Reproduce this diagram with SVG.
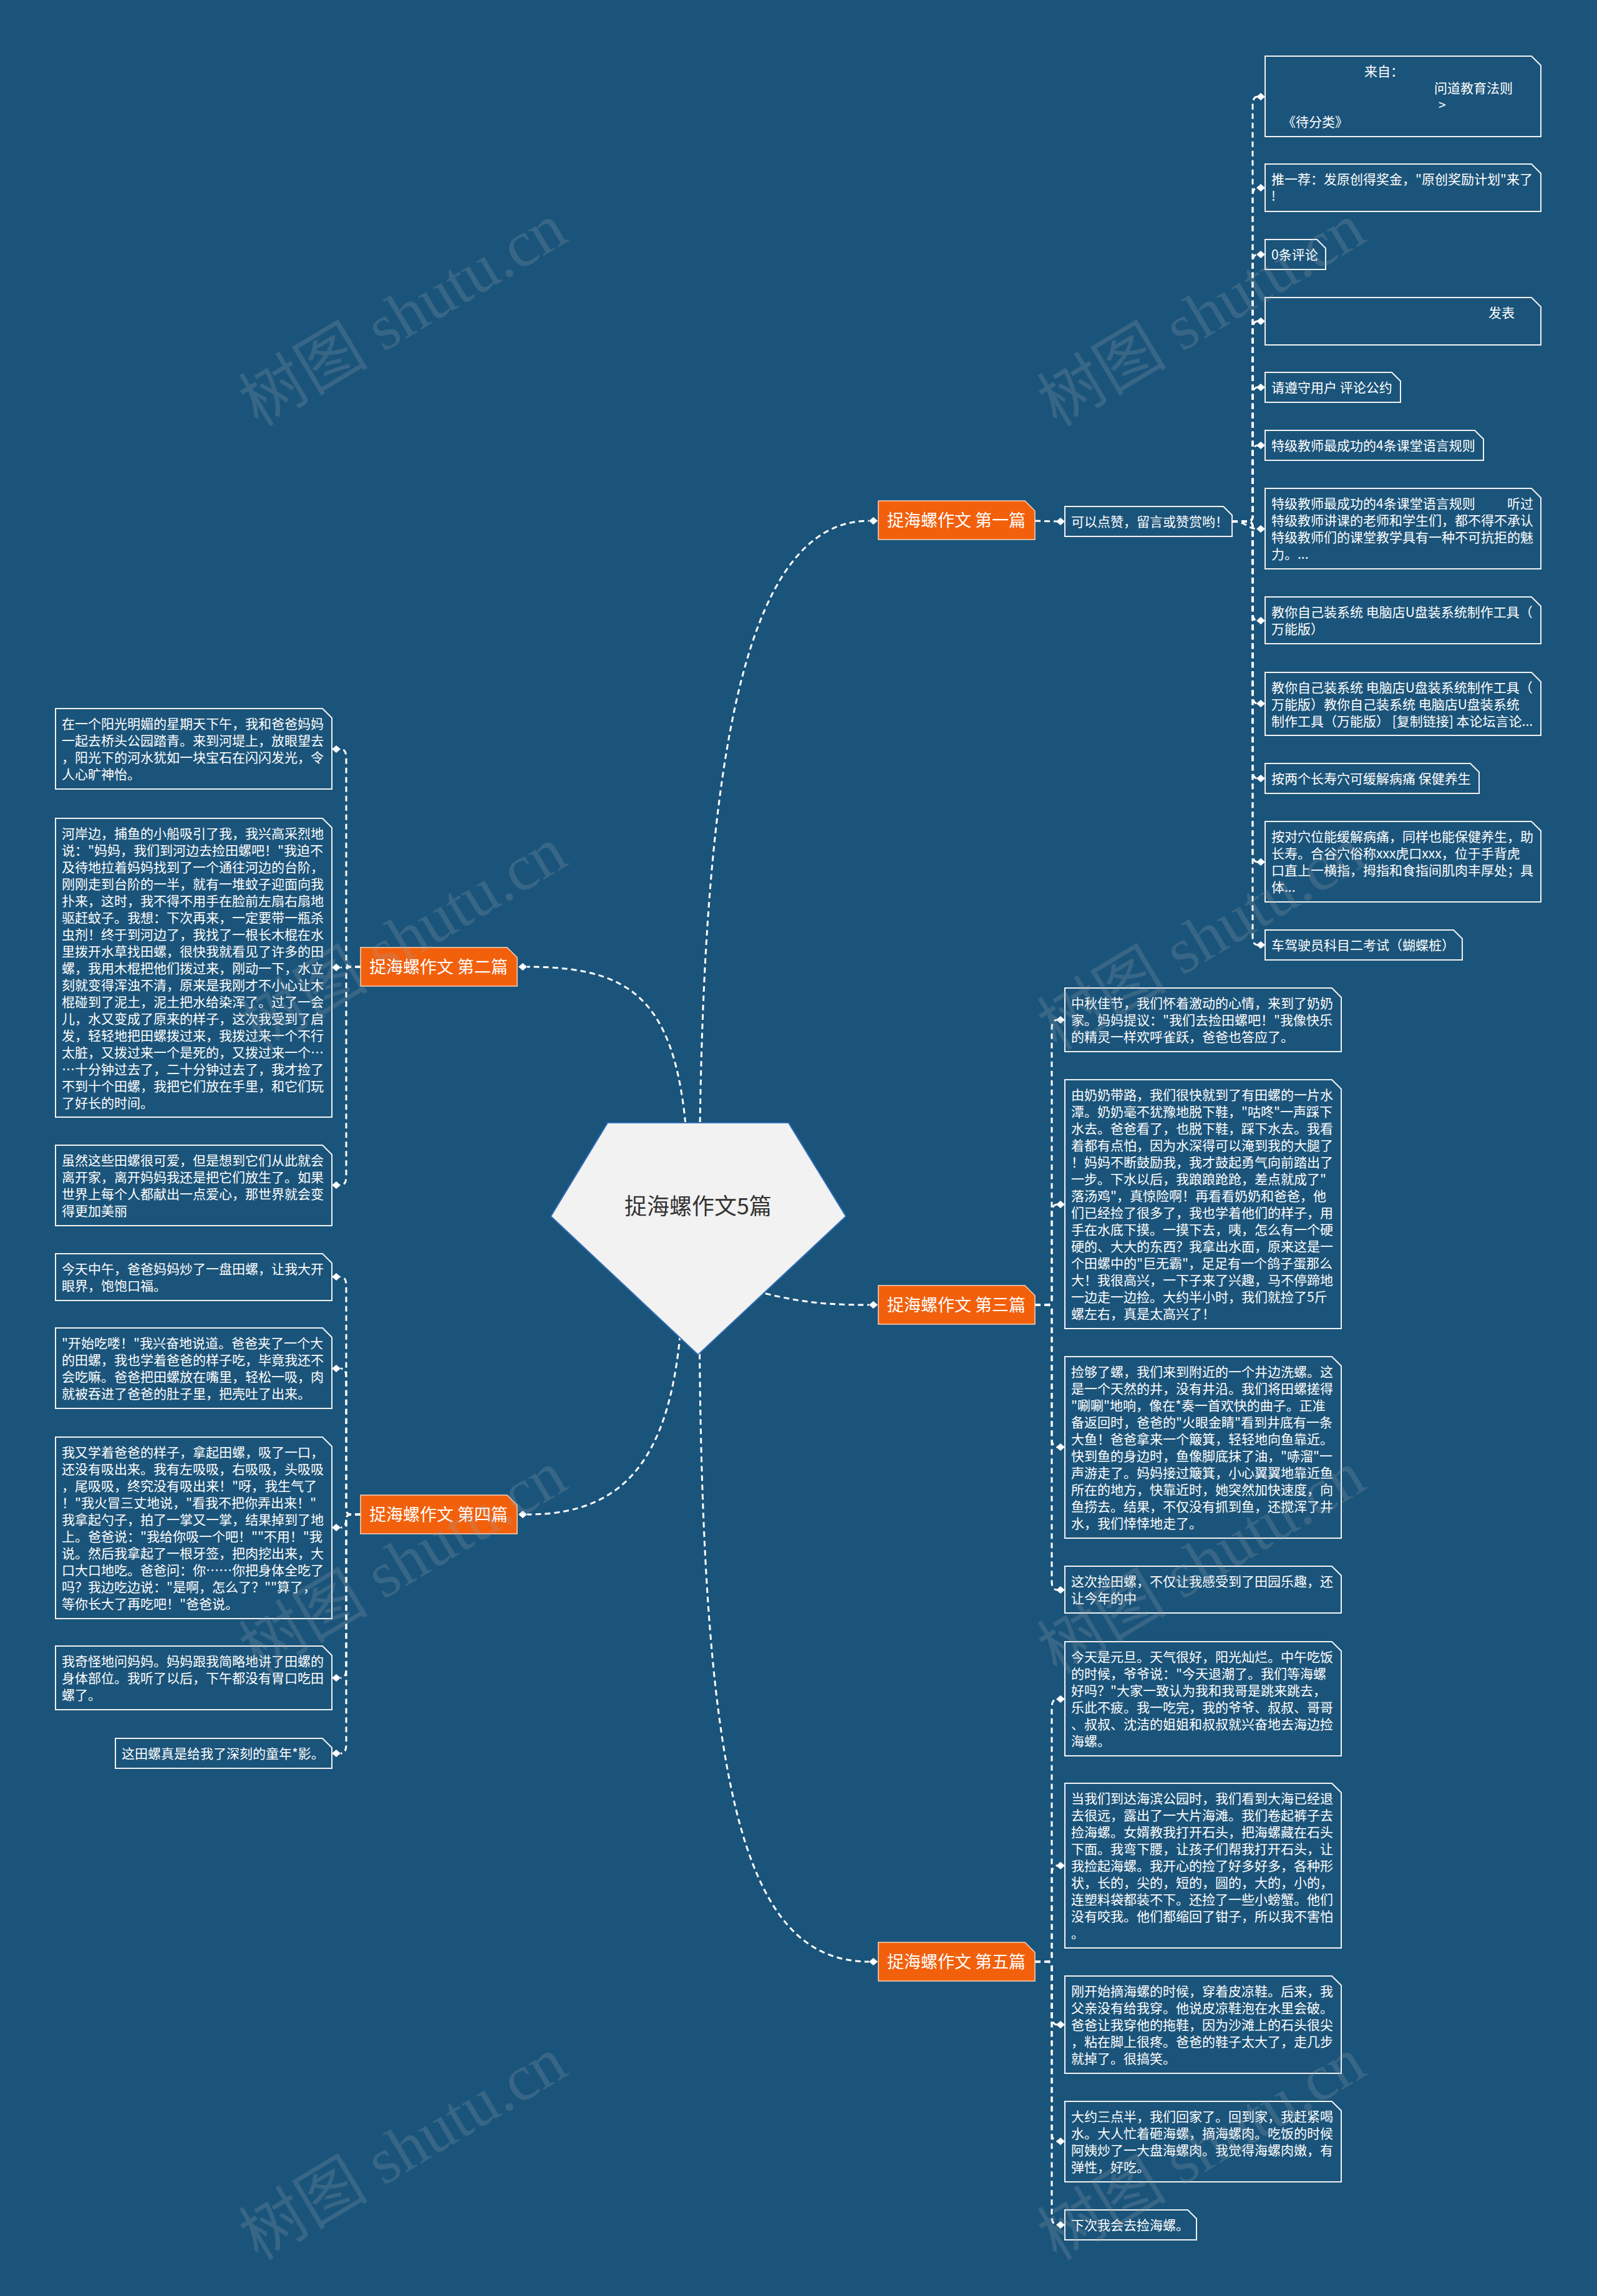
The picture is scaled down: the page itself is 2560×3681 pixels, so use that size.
<svg xmlns="http://www.w3.org/2000/svg" xmlns:xlink="http://www.w3.org/1999/xlink" width="2560" height="3681" viewBox="0 0 2560 3681">
<style>
.bg{fill:#1b547a}
.box{fill:#1b547a;stroke:#f2f2f2;stroke-width:2}
.lab{fill:#f2600c;stroke:#fbd3b8;stroke-width:1.5}
.t{font-family:"Noto Sans CJK SC","Noto Sans",sans-serif;font-size:21px;fill:#ffffff}
.lt{font-family:"Noto Sans CJK SC","Noto Sans",sans-serif;font-size:27px;fill:#ffffff}
.rt{font-family:"Noto Sans CJK SC","Noto Sans",sans-serif;font-size:36px;fill:#333333}
.c{fill:none;stroke:#ffffff;stroke-width:3;stroke-dasharray:9 6}
.wm{font-family:"Liberation Serif","Noto Sans CJK SC",serif;font-size:104px;fill:#9aa7b2;opacity:0.22}
</style>
<defs>
<path id="dia" d="M-7,0 L0,-6 L7,0 L0,6 Z" fill="#ffffff"/>
</defs>
<rect class="bg" x="0" y="0" width="2560" height="3681"/>

<g id="connectors">
<path class="c" d="M1121,1950 C1121,1250 1185,835 1393,835"/>
<path class="c" d="M1105,1950 C1105,1620 1040,1550 845,1550"/>
<path class="c" d="M1140,2050 C1260,2085 1300,2092 1393,2092"/>
<path class="c" d="M1095,2050 C1090,2330 1010,2428 845,2428"/>
<path class="c" d="M1121,2050 C1121,2850 1185,3145 1393,3145"/>
<path class="c" d="M1659,835 L1695,836"/>
<path class="c" d="M1975,836 H2000 Q2008,836 2008,828 V169 Q2008,155 2016,155"/>
<path class="c" d="M1975,836 H2000 Q2008,836 2008,828 V315 Q2008,301 2016,301"/>
<path class="c" d="M1975,836 H2000 Q2008,836 2008,828 V422 Q2008,408 2016,408"/>
<path class="c" d="M1975,836 H2000 Q2008,836 2008,828 V529 Q2008,515 2016,515"/>
<path class="c" d="M1975,836 H2000 Q2008,836 2008,828 V635 Q2008,621 2016,621"/>
<path class="c" d="M1975,836 H2000 Q2008,836 2008,828 V728 Q2008,714 2016,714"/>
<path class="c" d="M1975,836 C1998,836 2000,848 2016,848"/>
<path class="c" d="M1975,836 H2000 Q2008,836 2008,844 V981 Q2008,995 2016,995"/>
<path class="c" d="M1975,836 H2000 Q2008,836 2008,844 V1114 Q2008,1128 2016,1128"/>
<path class="c" d="M1975,836 H2000 Q2008,836 2008,844 V1234 Q2008,1248 2016,1248"/>
<path class="c" d="M1975,836 H2000 Q2008,836 2008,844 V1368 Q2008,1382 2016,1382"/>
<path class="c" d="M1975,836 H2000 Q2008,836 2008,844 V1501 Q2008,1515 2016,1515"/>
<path class="c" d="M1659,2092 H1678 Q1686,2092 1686,2084 V1649 Q1686,1635 1695,1635"/>
<path class="c" d="M1659,2092 H1678 Q1686,2092 1686,2084 V1945 Q1686,1931 1695,1931"/>
<path class="c" d="M1659,2092 H1678 Q1686,2092 1686,2100 V2306 Q1686,2320 1695,2320"/>
<path class="c" d="M1659,2092 H1678 Q1686,2092 1686,2100 V2535 Q1686,2549 1695,2549"/>
<path class="c" d="M1659,3145 H1678 Q1686,3145 1686,3137 V2738 Q1686,2724 1695,2724"/>
<path class="c" d="M1659,3145 H1678 Q1686,3145 1686,3137 V3005 Q1686,2991 1695,2991"/>
<path class="c" d="M1659,3145 H1678 Q1686,3145 1686,3153 V3232 Q1686,3246 1695,3246"/>
<path class="c" d="M1659,3145 H1678 Q1686,3145 1686,3153 V3419 Q1686,3433 1695,3433"/>
<path class="c" d="M1659,3145 H1678 Q1686,3145 1686,3153 V3553 Q1686,3567 1695,3567"/>
<path class="c" d="M578,1550 H563 Q555,1550 555,1542 V1215 Q555,1201 546,1201"/>
<path class="c" d="M578,1550 L546,1551"/>
<path class="c" d="M578,1550 H563 Q555,1550 555,1558 V1886 Q555,1900 546,1900"/>
<path class="c" d="M578,2428 H563 Q555,2428 555,2420 V2061 Q555,2047 546,2047"/>
<path class="c" d="M578,2428 H563 Q555,2428 555,2420 V2208 Q555,2194 546,2194"/>
<path class="c" d="M578,2428 H563 Q555,2428 555,2436 V2435 Q555,2449 546,2449"/>
<path class="c" d="M578,2428 H563 Q555,2428 555,2436 V2676 Q555,2690 546,2690"/>
<path class="c" d="M578,2428 H563 Q555,2428 555,2436 V2797 Q555,2811 546,2811"/>
<use xlink:href="#dia" x="1400" y="835"/>
<use xlink:href="#dia" x="838" y="1550"/>
<use xlink:href="#dia" x="1400" y="2092"/>
<use xlink:href="#dia" x="838" y="2428"/>
<use xlink:href="#dia" x="1400" y="3145"/>
<use xlink:href="#dia" x="1700" y="836"/>
<use xlink:href="#dia" x="2021" y="155"/>
<use xlink:href="#dia" x="2021" y="301"/>
<use xlink:href="#dia" x="2021" y="408"/>
<use xlink:href="#dia" x="2021" y="515"/>
<use xlink:href="#dia" x="2021" y="621"/>
<use xlink:href="#dia" x="2021" y="714"/>
<use xlink:href="#dia" x="2021" y="848"/>
<use xlink:href="#dia" x="2021" y="995"/>
<use xlink:href="#dia" x="2021" y="1128"/>
<use xlink:href="#dia" x="2021" y="1248"/>
<use xlink:href="#dia" x="2021" y="1382"/>
<use xlink:href="#dia" x="2021" y="1515"/>
<use xlink:href="#dia" x="1700" y="1635"/>
<use xlink:href="#dia" x="1700" y="1931"/>
<use xlink:href="#dia" x="1700" y="2320"/>
<use xlink:href="#dia" x="1700" y="2549"/>
<use xlink:href="#dia" x="1700" y="2724"/>
<use xlink:href="#dia" x="1700" y="2991"/>
<use xlink:href="#dia" x="1700" y="3246"/>
<use xlink:href="#dia" x="1700" y="3433"/>
<use xlink:href="#dia" x="1700" y="3567"/>
<use xlink:href="#dia" x="539" y="1201"/>
<use xlink:href="#dia" x="539" y="1551"/>
<use xlink:href="#dia" x="539" y="1900"/>
<use xlink:href="#dia" x="539" y="2047"/>
<use xlink:href="#dia" x="539" y="2194"/>
<use xlink:href="#dia" x="539" y="2449"/>
<use xlink:href="#dia" x="539" y="2690"/>
<use xlink:href="#dia" x="539" y="2811"/>
</g>

<g id="root">
<polygon points="974,1800 1264,1800 1356,1950 1119,2172 883,1950" fill="#f2f2f2" stroke="#2f6db5" stroke-width="2"/>
<text class="rt" x="1119" y="1947" text-anchor="middle">捉海螺作文5篇</text>
</g>

<g id="branch1">
<polygon class="lab" points="1408,803 1643,803 1659,819 1659,865 1408,865"/>
<text class="lt" x="1422" y="844">捉海螺作文 第一篇</text>
</g>
<g id="branch2">
<polygon class="lab" points="578,1519 813,1519 829,1535 829,1581 578,1581"/>
<text class="lt" x="592" y="1560">捉海螺作文 第二篇</text>
</g>
<g id="branch3">
<polygon class="lab" points="1408,2061 1643,2061 1659,2077 1659,2123 1408,2123"/>
<text class="lt" x="1422" y="2102">捉海螺作文 第三篇</text>
</g>
<g id="branch4">
<polygon class="lab" points="578,2397 813,2397 829,2413 829,2459 578,2459"/>
<text class="lt" x="592" y="2438">捉海螺作文 第四篇</text>
</g>
<g id="branch5">
<polygon class="lab" points="1408,3114 1643,3114 1659,3130 1659,3176 1408,3176"/>
<text class="lt" x="1422" y="3155">捉海螺作文 第五篇</text>
</g>

<g id="n1-0">
<polygon class="box" points="1707,812 1961,812 1975,826 1975,860 1707,860"/>
<text class="t" x="1717" y="844">可以点赞，留言或赞赏哟！</text>
</g>

<g id="n1-1">
<polygon class="box" points="2028,90 2455,90 2470,105 2470,219 2028,219"/>
<text class="t"><tspan x="2187" y="122">来自：</tspan><tspan x="2299" y="149">问道教育法则</tspan><tspan x="2306" y="176">&gt;</tspan><tspan x="2056" y="203">《待分类》</tspan></text>
</g>
<g id="n1-2">
<polygon class="box" points="2028,263 2455,263 2470,278 2470,339 2028,339"/>
<text class="t"><tspan x="2038" y="295">推一荐：发原创得奖金，"原创奖励计划"来了</tspan><tspan x="2038" y="322">!</tspan></text>
</g>
<g id="n1-3">
<polygon class="box" points="2028,384 2111,384 2125,398 2125,432 2028,432"/>
<text class="t" x="2038" y="416">0条评论</text>
</g>
<g id="n1-4">
<polygon class="box" points="2028,477 2455,477 2470,492 2470,553 2028,553"/>
<text class="t" x="2386" y="509">发表</text>
</g>
<g id="n1-5">
<polygon class="box" points="2028,597 2231,597 2245,611 2245,645 2028,645"/>
<text class="t" x="2038" y="629">请遵守用户 评论公约</text>
</g>
<g id="n1-6">
<polygon class="box" points="2028,690 2364,690 2378,704 2378,738 2028,738"/>
<text class="t" x="2038" y="722">特级教师最成功的4条课堂语言规则</text>
</g>
<g id="n1-7">
<polygon class="box" points="2028,783 2455,783 2470,798 2470,912 2028,912"/>
<text class="t"><tspan x="2038" y="815">特级教师最成功的4条课堂语言规则</tspan><tspan x="2416" y="815">听过</tspan><tspan x="2038" y="842">特级教师讲课的老师和学生们，都不得不承认</tspan><tspan x="2038" y="869">特级教师们的课堂教学具有一种不可抗拒的魅</tspan><tspan x="2038" y="896">力。...</tspan></text>
</g>
<g id="n1-8">
<polygon class="box" points="2028,957 2455,957 2470,972 2470,1032 2028,1032"/>
<text class="t"><tspan x="2038" y="989">教你自己装系统 电脑店U盘装系统制作工具（</tspan><tspan x="2038" y="1016">万能版）</tspan></text>
</g>
<g id="n1-9">
<polygon class="box" points="2028,1078 2455,1078 2470,1093 2470,1179 2028,1179"/>
<text class="t"><tspan x="2038" y="1110">教你自己装系统 电脑店U盘装系统制作工具（</tspan><tspan x="2038" y="1137">万能版）教你自己装系统 电脑店U盘装系统</tspan><tspan x="2038" y="1164">制作工具（万能版） [复制链接] 本论坛言论...</tspan></text>
</g>
<g id="n1-10">
<polygon class="box" points="2028,1224 2357,1224 2371,1238 2371,1272 2028,1272"/>
<text class="t" x="2038" y="1256">按两个长寿穴可缓解病痛 保健养生</text>
</g>
<g id="n1-11">
<polygon class="box" points="2028,1317 2455,1317 2470,1332 2470,1446 2028,1446"/>
<text class="t"><tspan x="2038" y="1349">按对穴位能缓解病痛，同样也能保健养生，助</tspan><tspan x="2038" y="1376">长寿。合谷穴俗称xxx虎口xxx，位于手背虎</tspan><tspan x="2038" y="1403">口直上一横指，拇指和食指间肌肉丰厚处；具</tspan><tspan x="2038" y="1430">体...</tspan></text>
</g>
<g id="n1-12">
<polygon class="box" points="2028,1491 2330,1491 2344,1505 2344,1539 2028,1539"/>
<text class="t" x="2038" y="1523">车驾驶员科目二考试（蝴蝶桩）</text>
</g>

<g id="n3-1">
<polygon class="box" points="1707,1584 2135,1584 2150,1599 2150,1686 1707,1686"/>
<text class="t"><tspan x="1717" y="1616">中秋佳节，我们怀着激动的心情，来到了奶奶</tspan><tspan x="1717" y="1643">家。妈妈提议："我们去捡田螺吧！"我像快乐</tspan><tspan x="1717" y="1670">的精灵一样欢呼雀跃，爸爸也答应了。</tspan></text>
</g>
<g id="n3-2">
<polygon class="box" points="1707,1731 2135,1731 2150,1746 2150,2130 1707,2130"/>
<text class="t"><tspan x="1717" y="1763">由奶奶带路，我们很快就到了有田螺的一片水</tspan><tspan x="1717" y="1790">潭。奶奶毫不犹豫地脱下鞋，"咕咚"一声踩下</tspan><tspan x="1717" y="1817">水去。爸爸看了，也脱下鞋，踩下水去。我看</tspan><tspan x="1717" y="1844">着都有点怕，因为水深得可以淹到我的大腿了</tspan><tspan x="1717" y="1871">！妈妈不断鼓励我，我才鼓起勇气向前踏出了</tspan><tspan x="1717" y="1898">一步。下水以后，我踉踉跄跄，差点就成了"</tspan><tspan x="1717" y="1925">落汤鸡"，真惊险啊！再看看奶奶和爸爸，他</tspan><tspan x="1717" y="1952">们已经捡了很多了，我也学着他们的样子，用</tspan><tspan x="1717" y="1979">手在水底下摸。一摸下去，咦，怎么有一个硬</tspan><tspan x="1717" y="2006">硬的、大大的东西？我拿出水面，原来这是一</tspan><tspan x="1717" y="2033">个田螺中的"巨无霸"，足足有一个鸽子蛋那么</tspan><tspan x="1717" y="2060">大！我很高兴，一下子来了兴趣，马不停蹄地</tspan><tspan x="1717" y="2087">一边走一边捡。大约半小时，我们就捡了5斤</tspan><tspan x="1717" y="2114">螺左右，真是太高兴了！</tspan></text>
</g>
<g id="n3-3">
<polygon class="box" points="1707,2175 2135,2175 2150,2190 2150,2466 1707,2466"/>
<text class="t"><tspan x="1717" y="2207">捡够了螺，我们来到附近的一个井边洗螺。这</tspan><tspan x="1717" y="2234">是一个天然的井，没有井沿。我们将田螺搓得</tspan><tspan x="1717" y="2261">"唰唰"地响，像在*奏一首欢快的曲子。正准</tspan><tspan x="1717" y="2288">备返回时，爸爸的"火眼金睛"看到井底有一条</tspan><tspan x="1717" y="2315">大鱼！爸爸拿来一个簸箕，轻轻地向鱼靠近。</tspan><tspan x="1717" y="2342">快到鱼的身边时，鱼像脚底抹了油，"哧溜"一</tspan><tspan x="1717" y="2369">声游走了。妈妈接过簸箕，小心翼翼地靠近鱼</tspan><tspan x="1717" y="2396">所在的地方，快靠近时，她突然加快速度，向</tspan><tspan x="1717" y="2423">鱼捞去。结果，不仅没有抓到鱼，还搅浑了井</tspan><tspan x="1717" y="2450">水，我们悻悻地走了。</tspan></text>
</g>
<g id="n3-4">
<polygon class="box" points="1707,2511 2135,2511 2150,2526 2150,2586 1707,2586"/>
<text class="t"><tspan x="1717" y="2543">这次捡田螺，不仅让我感受到了田园乐趣，还</tspan><tspan x="1717" y="2570">让今年的中</tspan></text>
</g>

<g id="n5-1">
<polygon class="box" points="1707,2632 2135,2632 2150,2647 2150,2815 1707,2815"/>
<text class="t"><tspan x="1717" y="2664">今天是元旦。天气很好，阳光灿烂。中午吃饭</tspan><tspan x="1717" y="2691">的时候，爷爷说："今天退潮了。我们等海螺</tspan><tspan x="1717" y="2718">好吗？"大家一致认为我和我哥是跳来跳去，</tspan><tspan x="1717" y="2745">乐此不疲。我一吃完，我的爷爷、叔叔、哥哥</tspan><tspan x="1717" y="2772">、叔叔、沈洁的姐姐和叔叔就兴奋地去海边捡</tspan><tspan x="1717" y="2799">海螺。</tspan></text>
</g>
<g id="n5-2">
<polygon class="box" points="1707,2859 2135,2859 2150,2874 2150,3123 1707,3123"/>
<text class="t"><tspan x="1717" y="2891">当我们到达海滨公园时，我们看到大海已经退</tspan><tspan x="1717" y="2918">去很远，露出了一大片海滩。我们卷起裤子去</tspan><tspan x="1717" y="2945">捡海螺。女婿教我打开石头，把海螺藏在石头</tspan><tspan x="1717" y="2972">下面。我弯下腰，让孩子们帮我打开石头，让</tspan><tspan x="1717" y="2999">我捡起海螺。我开心的捡了好多好多，各种形</tspan><tspan x="1717" y="3026">状，长的，尖的，短的，圆的，大的，小的，</tspan><tspan x="1717" y="3053">连塑料袋都装不下。还捡了一些小螃蟹。他们</tspan><tspan x="1717" y="3080">没有咬我。他们都缩回了钳子，所以我不害怕</tspan><tspan x="1717" y="3107">。</tspan></text>
</g>
<g id="n5-3">
<polygon class="box" points="1707,3168 2135,3168 2150,3183 2150,3324 1707,3324"/>
<text class="t"><tspan x="1717" y="3200">刚开始摘海螺的时候，穿着皮凉鞋。后来，我</tspan><tspan x="1717" y="3227">父亲没有给我穿。他说皮凉鞋泡在水里会破。</tspan><tspan x="1717" y="3254">爸爸让我穿他的拖鞋，因为沙滩上的石头很尖</tspan><tspan x="1717" y="3281">，粘在脚上很疼。爸爸的鞋子太大了，走几步</tspan><tspan x="1717" y="3308">就掉了。很搞笑。</tspan></text>
</g>
<g id="n5-4">
<polygon class="box" points="1707,3369 2135,3369 2150,3384 2150,3498 1707,3498"/>
<text class="t"><tspan x="1717" y="3401">大约三点半，我们回家了。回到家，我赶紧喝</tspan><tspan x="1717" y="3428">水。大人忙着砸海螺，摘海螺肉。吃饭的时候</tspan><tspan x="1717" y="3455">阿姨炒了一大盘海螺肉。我觉得海螺肉嫩，有</tspan><tspan x="1717" y="3482">弹性，好吃。</tspan></text>
</g>
<g id="n5-5">
<polygon class="box" points="1707,3543 1904,3543 1918,3557 1918,3591 1707,3591"/>
<text class="t" x="1717" y="3575">下次我会去捡海螺。</text>
</g>

<g id="n2-1">
<polygon class="box" points="89,1136 517,1136 532,1151 532,1265 89,1265"/>
<text class="t"><tspan x="99" y="1168">在一个阳光明媚的星期天下午，我和爸爸妈妈</tspan><tspan x="99" y="1195">一起去桥头公园踏青。来到河堤上，放眼望去</tspan><tspan x="99" y="1222">，阳光下的河水犹如一块宝石在闪闪发光，令</tspan><tspan x="99" y="1249">人心旷神怡。</tspan></text>
</g>
<g id="n2-2">
<polygon class="box" points="89,1312 517,1312 532,1327 532,1791 89,1791"/>
<text class="t"><tspan x="99" y="1344">河岸边，捕鱼的小船吸引了我，我兴高采烈地</tspan><tspan x="99" y="1371">说："妈妈，我们到河边去捡田螺吧！"我迫不</tspan><tspan x="99" y="1398">及待地拉着妈妈找到了一个通往河边的台阶，</tspan><tspan x="99" y="1425">刚刚走到台阶的一半，就有一堆蚊子迎面向我</tspan><tspan x="99" y="1452">扑来，这时，我不得不用手在脸前左扇右扇地</tspan><tspan x="99" y="1479">驱赶蚊子。我想：下次再来，一定要带一瓶杀</tspan><tspan x="99" y="1506">虫剂！终于到河边了，我找了一根长木棍在水</tspan><tspan x="99" y="1533">里拨开水草找田螺，很快我就看见了许多的田</tspan><tspan x="99" y="1560">螺，我用木棍把他们拨过来，刚动一下，水立</tspan><tspan x="99" y="1587">刻就变得浑浊不清，原来是我刚才不小心让木</tspan><tspan x="99" y="1614">棍碰到了泥土，泥土把水给染浑了。过了一会</tspan><tspan x="99" y="1641">儿，水又变成了原来的样子，这次我受到了启</tspan><tspan x="99" y="1668">发，轻轻地把田螺拨过来，我拨过来一个不行</tspan><tspan x="99" y="1695">太脏，又拨过来一个是死的，又拨过来一个…</tspan><tspan x="99" y="1722">…十分钟过去了，二十分钟过去了，我才捡了</tspan><tspan x="99" y="1749">不到十个田螺，我把它们放在手里，和它们玩</tspan><tspan x="99" y="1776">了好长的时间。</tspan></text>
</g>
<g id="n2-3">
<polygon class="box" points="89,1836 517,1836 532,1851 532,1965 89,1965"/>
<text class="t"><tspan x="99" y="1868">虽然这些田螺很可爱，但是想到它们从此就会</tspan><tspan x="99" y="1895">离开家，离开妈妈我还是把它们放生了。如果</tspan><tspan x="99" y="1922">世界上每个人都献出一点爱心，那世界就会变</tspan><tspan x="99" y="1949">得更加美丽</tspan></text>
</g>

<g id="n4-1">
<polygon class="box" points="89,2010 517,2010 532,2025 532,2085 89,2085"/>
<text class="t"><tspan x="99" y="2042">今天中午，爸爸妈妈炒了一盘田螺，让我大开</tspan><tspan x="99" y="2069">眼界，饱饱口福。</tspan></text>
</g>
<g id="n4-2">
<polygon class="box" points="89,2129 517,2129 532,2144 532,2258 89,2258"/>
<text class="t"><tspan x="99" y="2161">"开始吃喽！"我兴奋地说道。爸爸夹了一个大</tspan><tspan x="99" y="2188">的田螺，我也学着爸爸的样子吃，毕竟我还不</tspan><tspan x="99" y="2215">会吃嘛。爸爸把田螺放在嘴里，轻松一吸，肉</tspan><tspan x="99" y="2242">就被吞进了爸爸的肚子里，把壳吐了出来。</tspan></text>
</g>
<g id="n4-3">
<polygon class="box" points="89,2304 517,2304 532,2319 532,2595 89,2595"/>
<text class="t"><tspan x="99" y="2336">我又学着爸爸的样子，拿起田螺，吸了一口，</tspan><tspan x="99" y="2363">还没有吸出来。我有左吸吸，右吸吸，头吸吸</tspan><tspan x="99" y="2390">，尾吸吸，终究没有吸出来！"呀，我生气了</tspan><tspan x="99" y="2417">！"我火冒三丈地说，"看我不把你弄出来！"</tspan><tspan x="99" y="2444">我拿起勺子，拍了一掌又一掌，结果掉到了地</tspan><tspan x="99" y="2471">上。爸爸说："我给你吸一个吧！""不用！"我</tspan><tspan x="99" y="2498">说。然后我拿起了一根牙签，把肉挖出来，大</tspan><tspan x="99" y="2525">口大口地吃。爸爸问：你……你把身体全吃了</tspan><tspan x="99" y="2552">吗？我边吃边说："是啊，怎么了？""算了，</tspan><tspan x="99" y="2579">等你长大了再吃吧！"爸爸说。</tspan></text>
</g>
<g id="n4-4">
<polygon class="box" points="89,2639 517,2639 532,2654 532,2741 89,2741"/>
<text class="t"><tspan x="99" y="2671">我奇怪地问妈妈。妈妈跟我简略地讲了田螺的</tspan><tspan x="99" y="2698">身体部位。我听了以后，下午都没有胃口吃田</tspan><tspan x="99" y="2725">螺了。</tspan></text>
</g>
<g id="n4-5">
<polygon class="box" points="185,2787 517,2787 532,2802 532,2835 185,2835"/>
<text class="t" x="195" y="2819">这田螺真是给我了深刻的童年*影。</text>
</g>

<g id="watermark">
<text class="wm" x="646" y="540" text-anchor="middle" transform="rotate(-31 646 505)">树图 shutu.cn</text>
<text class="wm" x="1926" y="540" text-anchor="middle" transform="rotate(-31 1926 505)">树图 shutu.cn</text>
<text class="wm" x="646" y="1540" text-anchor="middle" transform="rotate(-31 646 1505)">树图 shutu.cn</text>
<text class="wm" x="1926" y="1540" text-anchor="middle" transform="rotate(-31 1926 1505)">树图 shutu.cn</text>
<text class="wm" x="646" y="2540" text-anchor="middle" transform="rotate(-31 646 2505)">树图 shutu.cn</text>
<text class="wm" x="1926" y="2540" text-anchor="middle" transform="rotate(-31 1926 2505)">树图 shutu.cn</text>
<text class="wm" x="646" y="3480" text-anchor="middle" transform="rotate(-31 646 3445)">树图 shutu.cn</text>
<text class="wm" x="1926" y="3480" text-anchor="middle" transform="rotate(-31 1926 3445)">树图 shutu.cn</text>
</g>
</svg>
